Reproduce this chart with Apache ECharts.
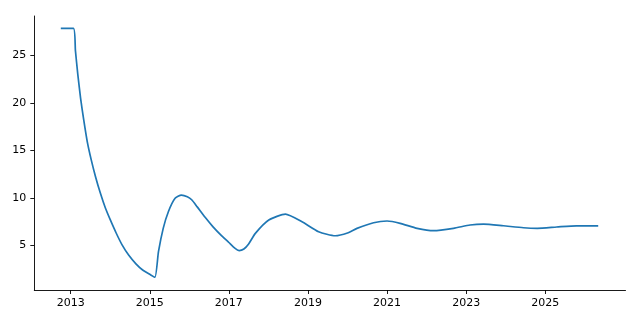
<!DOCTYPE html>
<html>
<head>
<meta charset="utf-8">
<script src="https://cdn.jsdelivr.net/npm/echarts@6/dist/echarts.min.js"></script>
<style>
html,body{margin:0;padding:0;background:#fff;}
#chart{width:640px;height:320px;}
</style>
</head>
<body>
<div id="chart"></div>
<script>
var years = [2012.75, 2013.07, 2013.12, 2013.18, 2013.25, 2013.33, 2013.42, 2013.52, 2013.63, 2013.75, 2013.88, 2014.00, 2014.15,
  2014.30, 2014.47, 2014.65, 2014.82, 2015.00, 2015.13,
  2015.22, 2015.34, 2015.47, 2015.64, 2015.80, 2015.95, 2016.06, 2016.20, 2016.40, 2016.60, 2016.82, 2017.00, 2017.15, 2017.26, 2017.38, 2017.50,
  2017.67, 2018.01, 2018.43, 2018.85, 2019.27, 2019.69, 2020.00, 2020.24, 2020.66, 2021.00, 2021.33, 2021.76, 2022.18, 2022.68,
  2023.10, 2023.44, 2023.94, 2024.45, 2024.80, 2025.29, 2025.79, 2026.34];
var values = [27.84, 27.84, 25.5, 23.0, 20.5, 18.2, 15.9, 14.0, 12.2, 10.5, 8.9, 7.7, 6.3,
  5.05, 3.95, 3.05, 2.4, 1.95, 1.64,
  4.33, 6.79, 8.54, 9.95, 10.29, 10.12, 9.8, 9.05, 7.95, 6.95, 6.0, 5.3, 4.7, 4.45, 4.62, 5.15,
  6.26, 7.66, 8.29, 7.48, 6.43, 6.01, 6.30, 6.79, 7.38, 7.56, 7.32, 6.79, 6.54, 6.79,
  7.14, 7.24, 7.06, 6.85, 6.79, 6.93, 7.06, 7.06];
var xTicks = [2013, 2015, 2017, 2019, 2021, 2023, 2025];
var yTicks = [5, 10, 15, 20, 25];

var data = years.map(function (y, i) { return [y, values[i]]; });
var chart = echarts.init(document.getElementById('chart'));
var axisCommon = {
  axisLine: { show: true, lineStyle: { color: '#000', width: 0.9 } },
  axisTick: { show: true, inside: false, length: 4, lineStyle: { color: '#000', width: 0.9 } },
  axisLabel: { color: '#000', fontFamily: 'DejaVu Sans', fontSize: 11, margin: 8 },
  splitLine: { show: false }
};
chart.setOption({
  animation: false,
  grid: { left: 34.3, right: 14.5, top: 16, bottom: 30, containLabel: false },
  xAxis: Object.assign({}, axisCommon, {
    type: 'value', min: 2012.08, max: 2027.03,
    axisTick: Object.assign({}, axisCommon.axisTick, { customValues: xTicks }),
    axisLabel: Object.assign({}, axisCommon.axisLabel, { customValues: xTicks, formatter: function (v) { return String(v); } })
  }),
  yAxis: Object.assign({}, axisCommon, {
    type: 'value', min: 0.3, max: 29.14,
    axisTick: Object.assign({}, axisCommon.axisTick, { customValues: yTicks }),
    axisLabel: Object.assign({}, axisCommon.axisLabel, { customValues: yTicks })
  }),
  series: [{
    type: 'line', data: data, showSymbol: false, smooth: 0.2,
    lineStyle: { color: '#1f77b4', width: 1.7 }
  }]
});
</script>
</body>
</html>
